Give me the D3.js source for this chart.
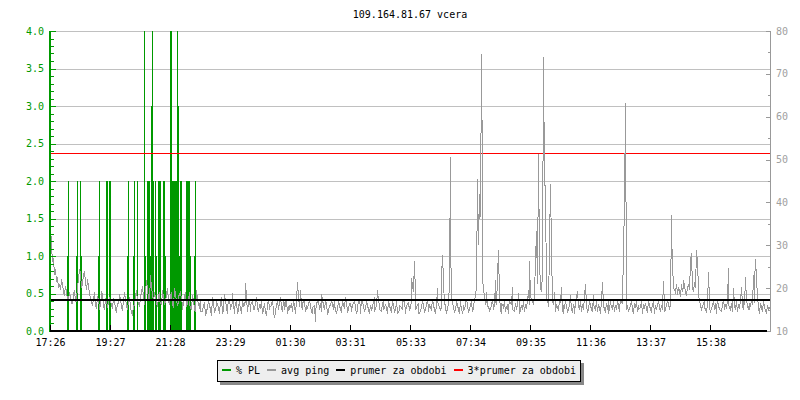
<!DOCTYPE html>
<html>
<head>
<meta charset="utf-8">
<script src="https://cdn.jsdelivr.net/npm/d3@7"></script>
<style>
  html, body { margin: 0; padding: 0; background: #fff; }
  svg { display: block; }
  text { font-family: "DejaVu Sans Mono", monospace; font-size: 10px; }
</style>
</head>
<body>
<svg id="chart" width="800" height="400"></svg>
<script>
// ---------- DATA ----------
const chartTitle = "109.164.81.67 vcera";
const tickLabels = ["17:26","19:27","21:28","23:29","01:30","03:31","05:33","07:34","09:35","11:36","13:37","15:38"];
const tickMinutes = [0,121,242,363,484,605,727,848,969,1090,1211,1332];
const spanMinutes = 1452;            // length of the period shown
const leftTicks = [0,0.5,1.0,1.5,2.0,2.5,3.0,3.5,4.0];
const rightTicks = [10,20,30,40,50,60,70,80];
const meanPing = 17.17;              // "prumer za obdobi" (ms)
const sampleCount = 720;             // samples across the period
// avg ping (ms), one value per sample
const pingMs = [
  34.5,30,26,27,23,24.5,21.5,22.5,20,21,19.5,22,21,19,18.5,20.5,19,17.5,17.5,19,
  18,16.5,16.5,18.5,19.5,17,17,20.5,22,24.5,23.5,20,21,23,24,21.5,19.5,22,20.5,18.5,
  18,16.5,16,17.5,19,16,15.5,18,17.5,15,16,19,18.5,16,15,17.5,17,15.5,16.5,18,
  18,16,15.5,17.5,17,15,14.5,16.5,16.5,18.5,17.5,15.5,15,17,19,17.5,16,15,17,18,
  15.5,14.5,13.5,16,16,18,19.5,17,16.5,15.5,18,19,20.5,18,17,16,22,19.5,18,17,
  23,20,18.5,17,19,18,16.5,15.5,18,19,17,16,19.5,18,16,17,18.5,20,17,16,
  18,19,16,15.5,20,18.5,17,16,16.5,18,19,17.5,16,15,18,19,15.5,16.5,17.5,19,
  16,15,18.5,17,15,14.5,19.5,17.5,16,15.5,17.5,14.5,14.5,16,16.5,14,13.5,15.5,17,16,
  15,13.5,18,16.5,14.5,15,16,17,15.5,14,17,18,14,15,16.5,18.5,15.5,14,16,17.5,
  15,16,16.5,18.8,14,15.5,17,14,15,17.5,16.5,14,17,16,15.5,17,21.3,14.5,16.5,17.5,
  14.5,16,17,15,15,16.5,18,15.5,14.5,16,15.5,17,14,15,16.5,14.5,13.5,16,17.5,15,
  15.5,16,17.5,14.5,13,14.5,16,17,15,16.5,18,15.5,14.5,17,16.5,15,17.5,14,15.5,16,
  15,16.5,14.5,17,16,14,17,21.5,18,15.5,19.5,16,15,16.5,17,14.5,16,15,15.5,17,
  16,14.5,14,15.5,16,12.2,14,16.5,17,15,16.5,14.5,18.7,16,15,17,16.5,14,14.5,16,
  15.5,17,16.5,15,17.5,16,14,15.5,16.5,17,15,14.5,17,16,15.5,18,17,14.5,15,16.5,
  16.5,15,14.5,16,17,15.5,14,15,16,17.5,15,14,17.5,16,14.5,15.5,16.5,17,15,14,
  16,15,15.5,17,18,14.5,16,19.5,17,16,15,14.5,16.5,17,15,16,15.5,14,17,16,
  15,14.5,17,16,14.5,15,16.5,17.5,14,15,16,15.5,15,17,17,14.5,14,16,16.5,15,
  15.5,17,22.4,19,26.4,18,15,16,16.5,14,14,15.5,17,16,14.5,15,16,17.5,15,14.5,
  16,15,17.5,16,15,14,16,20,17,15.5,15,15.5,22.4,27.7,16,17,14,15.5,16,21.5,
  50.6,32,18,15.5,14.5,15,16.5,17,15,14,17,16.5,14,15.5,16,15,17.5,16,14.5,15,
  16,17,14.5,15.5,16,17,20,45.4,30,42,36.6,74.6,45,22,18,16,17,19,16,15,
  14.5,16,17.5,15,16,21.8,17,16,29,18,15,14,16.5,15.5,17,14.5,15,16,14,15.5,
  17,16,20.3,15,14.5,16.5,15,16,18.8,15.5,14,16,15,17,14.5,16,15.5,17,19.5,16,
  26.4,18,17,16,19,26.2,33.4,21,51.3,26.2,20,19,23.7,74,44,44,18,17,16,15.5,
  44.4,29.3,17,16,19,15.5,14.5,16,15,17,16.5,20.3,15,14,16,15.5,17,14.5,15,16,
  18.3,15,14.5,16,15.5,14,16.5,19.3,16,15,17,14.5,15.5,16,15,21,16,14.5,15,17,
  16,15,14.5,18.3,16,15,17,14.5,16,15.5,14,17,21.4,16,15,14.5,16.5,15,17,14,
  15.5,16.5,15,17,14.5,16,15,17,16,14.5,15.5,17,16.5,29.3,39.4,63.3,18,15,16,14.5,
  16,17,15,14,16.5,15.5,17,14.5,16,15,15.5,17,14,16,15.5,16.5,15,14.5,17,16,
  15,14.5,16.5,15.5,17,14,16,15,17,15.5,14.5,16,15,21.7,16,14.5,15,17,16.5,15,
  16,37,32.6,25.8,20,19,21,18.5,20,19.5,18,21,19,20.5,22,19,18.5,20,21,19.5,
  26,28.3,20,19,21.5,20,29,25.8,20,18.5,17,16,15,16.5,17,15.5,14.5,16,23.8,17,
  15.5,14.5,16,17,15,16.5,14,15.5,17,16,15,14.5,16,17.5,15,16,15.5,17,24.7,16,
  15,16.5,14.5,20,16,15,17,14.5,16,15.5,17,20.3,16,15,17.5,16,22.5,17,15,16.5,
  15,17,16,23,16.5,21,26.8,18,15.5,14,16.5,15,16,14.5,17,15.5,14,16,15,15.5
];
// packet loss events: sample index and % value
const plSlots   = [17,18,26,27,30,31,48,49,56,57,60,77,78,83,84,87,94,95,97,98,99,100,101,102,103,105,106,108,109,110,113,114,115,120,121,122,123,124,125,126,127,128,129,130,131,136,137,138,139,140,144,145];
const plPercent = [1, 2, 1, 2, 2, 1, 1, 2, 2, 2, 2, 1, 2, 1, 2, 2, 4, 1, 2, 2, 2, 1, 3, 4, 2, 2, 1, 2, 2, 2, 2, 2, 1, 4, 4, 2, 2, 2, 2, 2, 4, 3, 1, 2, 2, 2, 2, 2, 2, 1, 1, 2];
const legendItems = ["% PL", "avg ping", "prumer za obdobi", "3*prumer za obdobi"];
const legendColors = ["#009900", "#999999", "#000000", "#ff0000"];

// ---------- CHART ----------
const svg = d3.select("#chart");
const L = 50, R = 770, T = 31, B = 331;
const x = d3.scaleLinear().domain([0, spanMinutes]).range([L, R]);
const yL = d3.scaleLinear().domain([0, 4]).range([B, T]);
const yR = d3.scaleLinear().domain([10, 80]).range([B, T]);
const green = "#009900", gray = "#999999", grid = "#c0c0c0";
const px = v => Math.round(v) + 0.5;
const sampleMin = spanMinutes / sampleCount;

// title
svg.append("text").attr("x", (L + R) / 2).attr("y", 17.5)
  .attr("text-anchor", "middle").attr("fill", "#000").text(chartTitle);

// grid lines (left axis major ticks)
svg.append("g").selectAll("line").data(leftTicks.filter(d => d > 0)).join("line")
  .attr("x1", L).attr("x2", R)
  .attr("y1", d => px(yL(d))).attr("y2", d => px(yL(d)))
  .attr("stroke", grid).attr("stroke-width", 1).attr("shape-rendering", "crispEdges");

// packet loss bars
svg.append("g").selectAll("rect").data(plSlots.map((s, i) => ({s, v: plPercent[i]}))).join("rect")
  .attr("x", d => Math.floor(x(d.s * sampleMin)))
  .attr("width", d => Math.max(1, Math.floor(x((d.s + 1) * sampleMin)) - Math.floor(x(d.s * sampleMin))))
  .attr("y", d => Math.round(yL(Math.min(d.v, 4))))
  .attr("height", d => Math.round(yL(0)) - Math.round(yL(Math.min(d.v, 4))))
  .attr("fill", green).attr("shape-rendering", "crispEdges");

// 3*mean line
svg.append("line").attr("x1", L).attr("x2", R)
  .attr("y1", px(yR(3 * meanPing))).attr("y2", px(yR(3 * meanPing)))
  .attr("stroke", "#ff0000").attr("stroke-width", 1).attr("shape-rendering", "crispEdges");

// ping line
svg.append("path").datum(pingMs)
  .attr("d", d3.line().x((d, i) => Math.floor(x(i * sampleMin)) + 0.5).y(d => yR(d)))
  .attr("fill", "none").attr("stroke", gray).attr("stroke-width", 1)
  .attr("shape-rendering", "crispEdges");

// mean line
svg.append("line").attr("x1", L).attr("x2", R)
  .attr("y1", Math.round(yR(meanPing))).attr("y2", Math.round(yR(meanPing)))
  .attr("stroke", "#000").attr("stroke-width", 2).attr("shape-rendering", "crispEdges");

// left axis
const gl = svg.append("g").attr("shape-rendering", "crispEdges");
gl.append("line").attr("x1", L).attr("x2", L).attr("y1", T).attr("y2", B + 1)
  .attr("stroke", green).attr("stroke-width", 2);
const leftMinor = d3.range(0, 41).map(i => i / 10);
gl.selectAll("line.mt").data(leftMinor).join("line").attr("class", "mt")
  .attr("x1", L).attr("x2", d => L + (Math.abs(d * 2 - Math.round(d * 2)) < 1e-6 ? 6 : 4))
  .attr("y1", d => px(yL(d))).attr("y2", d => px(yL(d)))
  .attr("stroke", green).attr("stroke-width", 1);
gl.selectAll("text").data(leftTicks).join("text")
  .attr("x", 44).attr("y", d => yL(d) + 3.5).attr("text-anchor", "end")
  .attr("fill", green).text(d => d.toFixed(1));

// right axis
const gr = svg.append("g").attr("shape-rendering", "crispEdges");
gr.append("line").attr("x1", R + 0.5).attr("x2", R + 0.5).attr("y1", T).attr("y2", B + 1)
  .attr("stroke", gray).attr("stroke-width", 1);
const rightMinor = d3.range(10, 81, 5);
gr.selectAll("line.mt").data(rightMinor).join("line").attr("class", "mt")
  .attr("x1", R + 0.5).attr("x2", d => R + 0.5 - (d % 10 === 0 ? 5 : 3))
  .attr("y1", d => px(yR(d))).attr("y2", d => px(yR(d)))
  .attr("stroke", gray).attr("stroke-width", 1);
gr.selectAll("text").data(rightTicks).join("text")
  .attr("x", R + 6).attr("y", d => yR(d) + 3.5).attr("text-anchor", "start")
  .attr("fill", "#a0a0a0").text(d => d);

// x axis
const gx = svg.append("g").attr("shape-rendering", "crispEdges");
gx.append("line").attr("x1", L).attr("x2", R - 3).attr("y1", B).attr("y2", B)
  .attr("stroke", "#000").attr("stroke-width", 2);
gx.selectAll("line.t").data(tickMinutes).join("line").attr("class", "t")
  .attr("x1", d => px(x(d))).attr("x2", d => px(x(d)))
  .attr("y1", B).attr("y2", B - 6).attr("stroke", "#000").attr("stroke-width", 1);
gx.selectAll("text").data(tickMinutes).join("text")
  .attr("x", d => x(d) + 0.5).attr("y", 345.5).attr("text-anchor", "middle")
  .attr("fill", "#000").text((d, i) => tickLabels[i]);

// legend
const lg = svg.append("g").attr("shape-rendering", "crispEdges");
lg.append("rect").attr("x", 220).attr("y", 363).attr("width", 364).attr("height", 22).attr("fill", "#888");
lg.append("rect").attr("x", 217.5).attr("y", 360.5).attr("width", 363).attr("height", 21)
  .attr("fill", "#eeeeee").attr("stroke", "#000").attr("stroke-width", 1);
let lx = 222;
legendItems.forEach((name, i) => {
  lg.append("rect").attr("x", lx).attr("y", 369).attr("width", 9).attr("height", 2).attr("fill", legendColors[i]);
  const t = lg.append("text").attr("x", lx + 14).attr("y", 373.5).attr("fill", "#000").text(name);
  lx = lx + 14 + t.node().getComputedTextLength() + 7;
});
</script>
</body>
</html>
